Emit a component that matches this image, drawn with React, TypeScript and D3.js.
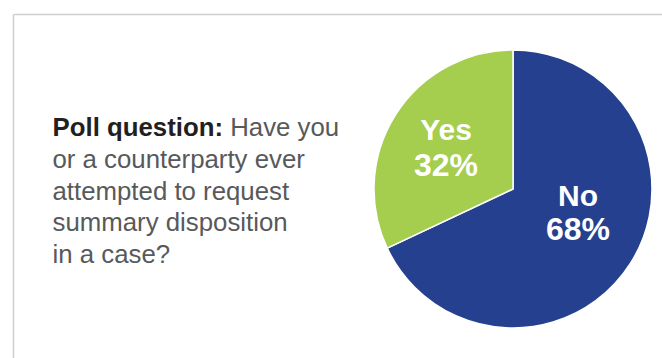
import React from "react";
import * as d3 from "d3";

const categories = ["No", "Yes"];
const values = [68, 32];
const colors = ["#24408E", "#A5CD4E"];
const questionBold = "Poll question:";
const questionLines = [" Have you", "or a counterparty ever", "attempted to request", "summary disposition", "in a case?"];

export default function App() {
  const W = 662, H = 358;
  const cx = 513, cy = 189, r = 139;
  const pie = d3.pie<number>().sort(null).value((d) => d)(values);
  const arc = d3.arc<d3.PieArcDatum<number>>().innerRadius(0).outerRadius(r);
  const labelPos = [
    { x: 578, y1: 206, y2: 240 },
    { x: 446, y1: 140, y2: 176 },
  ];
  return (
    <svg width={W} height={H} style={{ position: "fixed", left: 0, top: 0, background: "#fff" }}>
      <rect x={0} y={0} width={W} height={H} fill="#fff" />
      <line x1={13.5} y1={14.5} x2={W} y2={14.5} stroke="#cfcfcf" strokeWidth={1.5} />
      <line x1={13.5} y1={14.5} x2={13.5} y2={H} stroke="#cfcfcf" strokeWidth={1.5} />
      <g transform={`translate(${cx},${cy})`}>
        {pie.map((p, i) => (
          <path key={i} d={arc(p) || ""} fill={colors[i]} stroke="#fff" strokeWidth={1.5} strokeLinejoin="round" />
        ))}
      </g>
      {pie.map((p, i) => (
        <text key={i} fill="#fff" fontFamily="Liberation Sans, Arial, sans-serif" fontWeight="bold" textAnchor="middle">
          <tspan x={labelPos[i].x} y={labelPos[i].y1} fontSize={30}>{categories[i]}</tspan>
          <tspan x={labelPos[i].x} y={labelPos[i].y2} fontSize={32}>{values[i]}%</tspan>
        </text>
      ))}
      <text fontFamily="Liberation Sans, Arial, sans-serif" fontSize={25.8} fill="#58595b">
        <tspan x={52.5} y={136} fontWeight="bold" fill="#231f20">{questionBold}</tspan>
        <tspan>{questionLines[0]}</tspan>
        {questionLines.slice(1).map((l, i) => (
          <tspan key={i} x={52.5} y={136 + 31.8 * (i + 1)}>{l}</tspan>
        ))}
      </text>
    </svg>
  );
}
